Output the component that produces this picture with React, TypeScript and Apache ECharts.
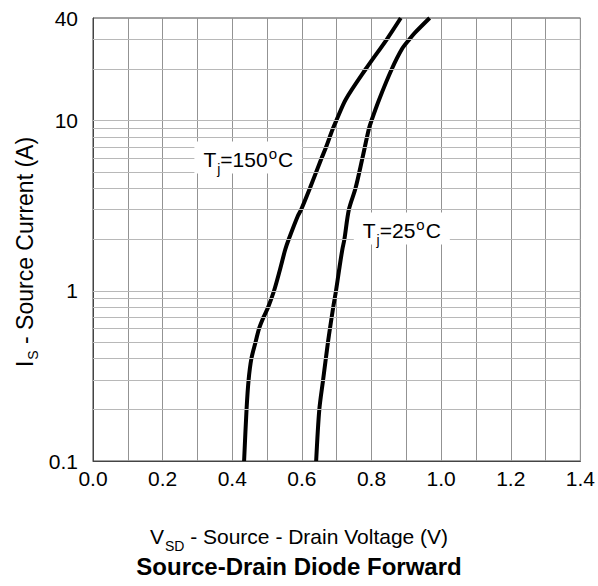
import React, { useEffect, useRef } from "react";
import * as echarts from "echarts";

// Tj = 150°C curve
const vsd150 = [0.434, 0.441, 0.447, 0.455, 0.467, 0.477, 0.49, 0.503, 0.52, 0.537, 0.552, 0.562, 0.588, 0.598, 0.623, 0.655, 0.669, 0.688, 0.699, 0.726, 0.783, 0.844, 0.884];
const is150 = [0.1, 0.2, 0.3, 0.4, 0.5, 0.6, 0.7, 0.8, 1.0, 1.33, 1.74, 2.0, 2.74, 3.0, 4.0, 5.9, 6.94, 8.85, 10, 13.3, 20, 30, 40];

// Tj = 25°C curve
const vsd25 = [0.641, 0.65, 0.661, 0.675, 0.69, 0.698, 0.707, 0.716, 0.722, 0.735, 0.754, 0.773, 0.792, 0.80, 0.822, 0.858, 0.887, 0.909, 0.925, 0.967];
const is25 = [0.1, 0.2, 0.3, 0.5, 0.8, 1.0, 1.33, 1.74, 2.0, 3.0, 4.0, 5.9, 8.85, 10, 13.3, 20, 26.2, 30, 32.8, 40];

// horizontal grid levels (log decades)
const hGrid = [0.2, 0.3, 0.4, 0.5, 0.6, 0.7, 0.8, 0.9, 1, 2, 3, 4, 5, 6, 7, 8, 9, 10, 20, 30];

// label anchors
const label150 = [0.446, 6.06];
const label25 = [0.887, 2.32];

const FONT = "'Liberation Sans', Arial, sans-serif";

const makeRich = (size: number) => ({
  n: { fontSize: size, lineHeight: 24, verticalAlign: "top", padding: [3, 0, 0, 0], color: "#000", fontFamily: FONT },
  s: { fontSize: 14, lineHeight: 14, verticalAlign: "top", padding: [16, 0, 0, 1], color: "#000", fontFamily: FONT },
  o: { fontSize: 15, lineHeight: 15, verticalAlign: "top", padding: [0, 1, 0, 1], color: "#000", fontFamily: FONT },
});
const rich = makeRich(21);

export default function App() {
  const ref = useRef<HTMLDivElement>(null);
  useEffect(() => {
    if (!ref.current) return;
    const chart = echarts.init(ref.current, null, { renderer: "svg" });
    const pairs = (xs: number[], ys: number[]) => xs.map((x, i) => [x, ys[i]]);
    const tLabel = (txt: string) => ({
      show: true,
      position: "inside",
      formatter: `{n|T}{s|j}{n|=${txt}}{o|o}{n|C}`,
      backgroundColor: "#fff",
      padding: [4, 9, 4, 9],
      rich,
    });
    chart.setOption({
      animation: false,
      grid: { left: 93, top: 18, right: 13, bottom: 125, show: true, borderColor: "#444", borderWidth: 1, backgroundColor: "transparent" },
      xAxis: {
        type: "value",
        min: 0,
        max: 1.4,
        interval: 0.1,
        axisLine: { show: true, lineStyle: { color: "#444", width: 1 } },
        axisTick: { show: false },
        splitLine: { show: true, lineStyle: { color: "#939393", width: 1 } },
        axisLabel: {
          margin: 7,
          fontSize: 21,
          color: "#000",
          fontFamily: FONT,
          formatter: (v: number) => (Math.round(v * 10) % 2 === 0 ? v.toFixed(1) : ""),
        },
      },
      yAxis: {
        type: "log",
        logBase: 10,
        min: 0.1,
        max: 40,
        interval: 1,
        axisLine: { show: true, lineStyle: { color: "#444", width: 1 } },
        axisTick: { show: false },
        splitLine: { show: false },
        axisLabel: {
          margin: 15,
          fontSize: 21,
          color: "#000",
          fontFamily: FONT,
          showMaxLabel: true,
          showMinLabel: true,
          formatter: (v: number) => String(parseFloat(v.toPrecision(3))),
        },
      },
      series: [
        {
          type: "line",
          data: [],
          silent: true,
          z: 1,
          markLine: {
            silent: true,
            symbol: "none",
            label: { show: false },
            lineStyle: { color: "#b8b8b8", width: 1, type: "solid" },
            data: hGrid.map((v) => ({ yAxis: v })),
          },
        },
        {
          type: "line",
          data: pairs(vsd150, is150),
          showSymbol: false,
          symbol: "none",
          smooth: 0.3,
          lineStyle: { color: "#000", width: 4 },
          z: 3,
        },
        {
          type: "line",
          data: pairs(vsd25, is25),
          showSymbol: false,
          symbol: "none",
          smooth: 0.3,
          lineStyle: { color: "#000", width: 4 },
          z: 3,
        },
        {
          type: "scatter",
          data: [],
          z: 5,
          markPoint: {
            symbol: "rect",
            symbolSize: 0,
            silent: true,
            data: [
              { coord: label150, label: tLabel("150") },
              { coord: label25, label: tLabel("25") },
            ],
          },
        },
      ],
      graphic: [
        {
          type: "text",
          x: 299,
          y: 535,
          style: {
            text: "{n|V}{s|SD}{n| - Source - Drain Voltage (V)}",
            rich,
            align: "center",
            verticalAlign: "middle",
          },
        },
        {
          type: "text",
          x: 299,
          y: 566,
          style: {
            text: "Source-Drain Diode Forward",
            fontSize: 24,
            fontWeight: "bold",
            fontFamily: FONT,
            fill: "#000",
            align: "center",
            verticalAlign: "middle",
          },
        },
        {
          type: "text",
          x: 22,
          y: 252,
          rotation: Math.PI / 2,
          style: {
            text: "{n|I}{s|S}{n| - Source Current (A)}",
            rich: makeRich(23),
            align: "center",
            verticalAlign: "middle",
          },
        },
      ],
    });
    return () => chart.dispose();
  }, []);
  return <div ref={ref} style={{ width: 598, height: 586, position: "absolute", left: 0, top: 0 }} />;
}
